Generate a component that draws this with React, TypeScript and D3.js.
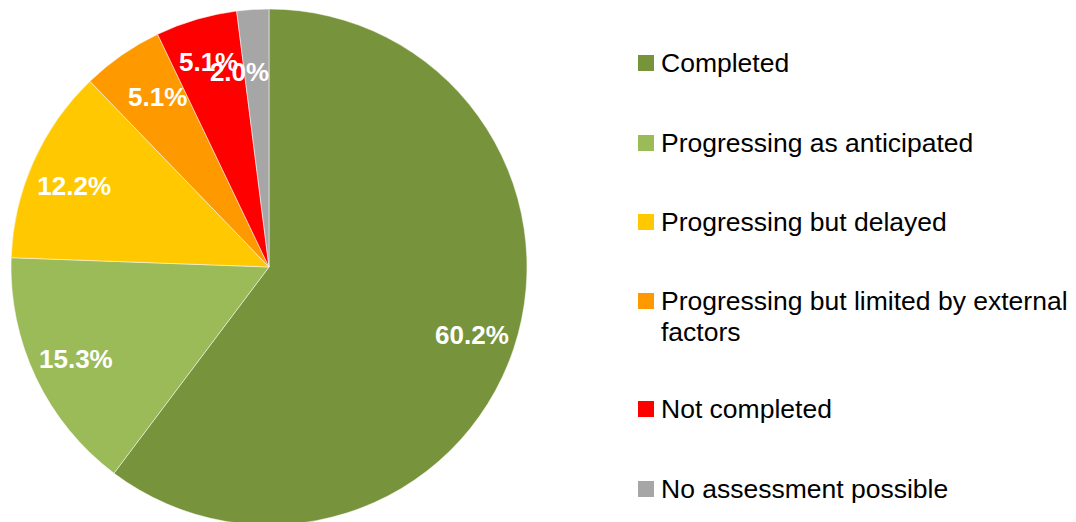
import React from "react";
import * as d3 from "d3";

const categories = [
  "Completed",
  "Progressing as anticipated",
  "Progressing but delayed",
  "Progressing but limited by external factors",
  "Not completed",
  "No assessment possible",
];
const values = [60.2, 15.3, 12.2, 5.1, 5.1, 2.0];
const valueLabels = ["60.2%", "15.3%", "12.2%", "5.1%", "5.1%", "2.0%"];
const colors = ["#77933C", "#9BBB59", "#FFC800", "#FF9900", "#FF0000", "#A6A6A6"];
const legendLines = [
  ["Completed"],
  ["Progressing as anticipated"],
  ["Progressing but delayed"],
  ["Progressing but limited by external", "factors"],
  ["Not completed"],
  ["No assessment possible"],
];
// layout: label radius and angular nudge (degrees) per slice
const labelRadius = [214, 214, 211, 203, 214, 197];
const labelShift = [0, 0, -1.5, 1.5, 0, -5];
const legendY = [63, 143, 222, 301, 409, 489];

export default function App() {
  const W = 1076, H = 522;
  const cx = 269, cy = 267, r = 258;
  const pie = d3.pie<number>().sort(null).value((d) => d);
  const arcs = pie(values);
  const arc = d3.arc<d3.PieArcDatum<number>>().innerRadius(0).outerRadius(r);
  const font = "Liberation Sans, Arial, sans-serif";
  return (
    <svg width={W} height={H} style={{ position: "absolute", left: 0, top: 0 }}>
      <g transform={`translate(${cx},${cy})`}>
        {arcs.map((a, i) => (
          <path key={i} d={arc(a) || ""} fill={colors[i]} stroke="#fff" strokeWidth={0.5} />
        ))}
        {arcs.map((a, i) => {
          const ang = (a.startAngle + a.endAngle) / 2 + (labelShift[i] * Math.PI) / 180;
          const x = labelRadius[i] * Math.sin(ang);
          const y = -labelRadius[i] * Math.cos(ang);
          return (
            <text key={i} x={x} y={y} dy="0.35em" textAnchor="middle" fill="#fff"
              fontFamily={font} fontWeight="bold" fontSize={26}>{valueLabels[i]}</text>
          );
        })}
      </g>
      {categories.map((c, i) => (
        <g key={c}>
          <rect x={638} y={legendY[i] - 8} width={16} height={16} fill={colors[i]} />
          {legendLines[i].map((ln, j) => (
            <text key={j} x={661} y={legendY[i] + j * 31} dy="0.35em" fill="#000"
              fontFamily={font} fontSize={26.5}>{ln}</text>
          ))}
        </g>
      ))}
    </svg>
  );
}
